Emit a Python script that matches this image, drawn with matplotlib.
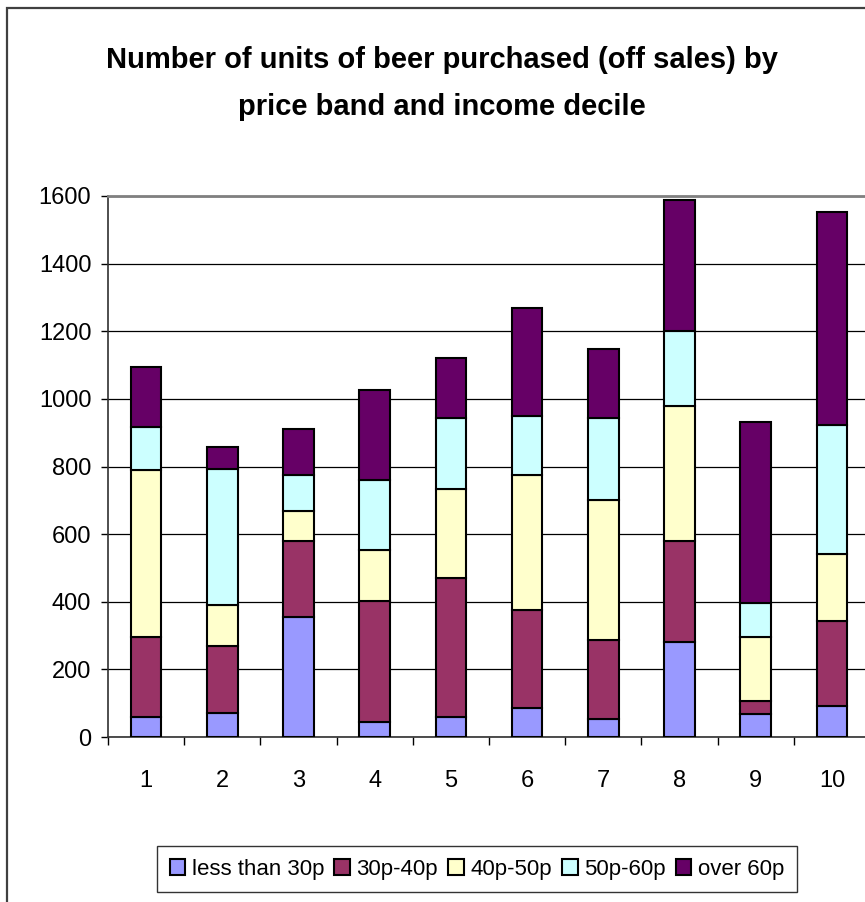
import matplotlib.pyplot as plt
from matplotlib.patches import Rectangle
from matplotlib.ticker import FixedLocator
import numpy as np

# values
deciles = ['1', '2', '3', '4', '5', '6', '7', '8', '9', '10']
bands = ['less than 30p', '30p-40p', '40p-50p', '50p-60p', 'over 60p']
less_30 = [58, 71, 356, 45, 59, 85, 52, 282, 67, 92]
p30_40 = [238, 198, 223, 358, 412, 291, 236, 297, 38, 251]
p40_50 = [494, 122, 88, 150, 263, 400, 413, 399, 191, 197]
p50_60 = [126, 402, 109, 208, 210, 174, 243, 224, 101, 383]
over_60 = [177, 64, 135, 265, 176, 320, 204, 385, 535, 629]
yticks = [0, 200, 400, 600, 800, 1000, 1200, 1400, 1600]

colors = ['#9999FF', '#993366', '#FFFFCC', '#CCFFFF', '#660066']
FONT = ['Liberation Sans', 'DejaVu Sans']
plt.rcParams['font.family'] = FONT

W, H = 865, 902
fig = plt.figure(figsize=(W / 100, H / 100), dpi=100)

# chart area border (runs off the right and bottom edges)
fig.patches.append(Rectangle((7 / W, -0.05), 1.2, 1 - 8 / H + 0.05,
                             transform=fig.transFigure, fill=False,
                             edgecolor='#404040', linewidth=1.6))

left, right = 108 / W, 870 / W
bottom, top = 1 - 737 / H, 1 - 196 / H
ax = fig.add_axes([left, bottom, right - left, top - bottom])

x = np.arange(1, len(deciles) + 1)
base = np.zeros(len(deciles))
for vals, lab, col in zip([less_30, p30_40, p40_50, p50_60, over_60], bands, colors):
    ax.bar(x, vals, width=0.4, bottom=base, color=col, edgecolor='black',
           linewidth=1.5, label=lab, zorder=3)
    base += np.array(vals)

ax.set_xlim(0.5, len(deciles) + 0.5)
ax.set_ylim(0, 1600)
ax.set_yticks(yticks)
ax.set_yticklabels([str(v) for v in yticks])
ax.set_xticks(x)
ax.set_xticklabels(deciles)
ax.xaxis.set_minor_locator(FixedLocator(np.arange(0.5, len(deciles) + 1, 1)))
ax.tick_params(axis='x', which='major', length=0, pad=24, labelsize=17)
ax.tick_params(axis='x', which='minor', length=6, width=1, direction='out')
ax.tick_params(axis='y', length=5, width=1, direction='out', pad=7, labelsize=17)

ax.grid(axis='y', color='black', linewidth=0.9, zorder=0)
ax.set_axisbelow(True)
ax.spines['right'].set_visible(False)
ax.spines['top'].set_color('#808080')
ax.spines['top'].set_linewidth(2)
ax.spines['left'].set_color('#303030')
ax.spines['left'].set_linewidth(1.2)
ax.spines['bottom'].set_color('#303030')
ax.spines['bottom'].set_linewidth(1.2)

fig.text(442 / W, 1 - 60 / H, 'Number of units of beer purchased (off sales) by',
         ha='center', va='center', fontsize=21, fontweight='bold')
fig.text(442 / W, 1 - 107 / H, 'price band and income decile',
         ha='center', va='center', fontsize=21, fontweight='bold')

leg = fig.legend(loc='center', bbox_to_anchor=(477 / W, 1 - 869 / H), ncol=5,
                 fontsize=16, frameon=True, fancybox=False, handlelength=0.7,
                 handleheight=0.7, handletextpad=0.3, columnspacing=0.45,
                 borderpad=0.55, borderaxespad=0)
leg.get_frame().set_edgecolor('black')
leg.get_frame().set_linewidth(1)

fig.savefig('out.png', dpi=100)
